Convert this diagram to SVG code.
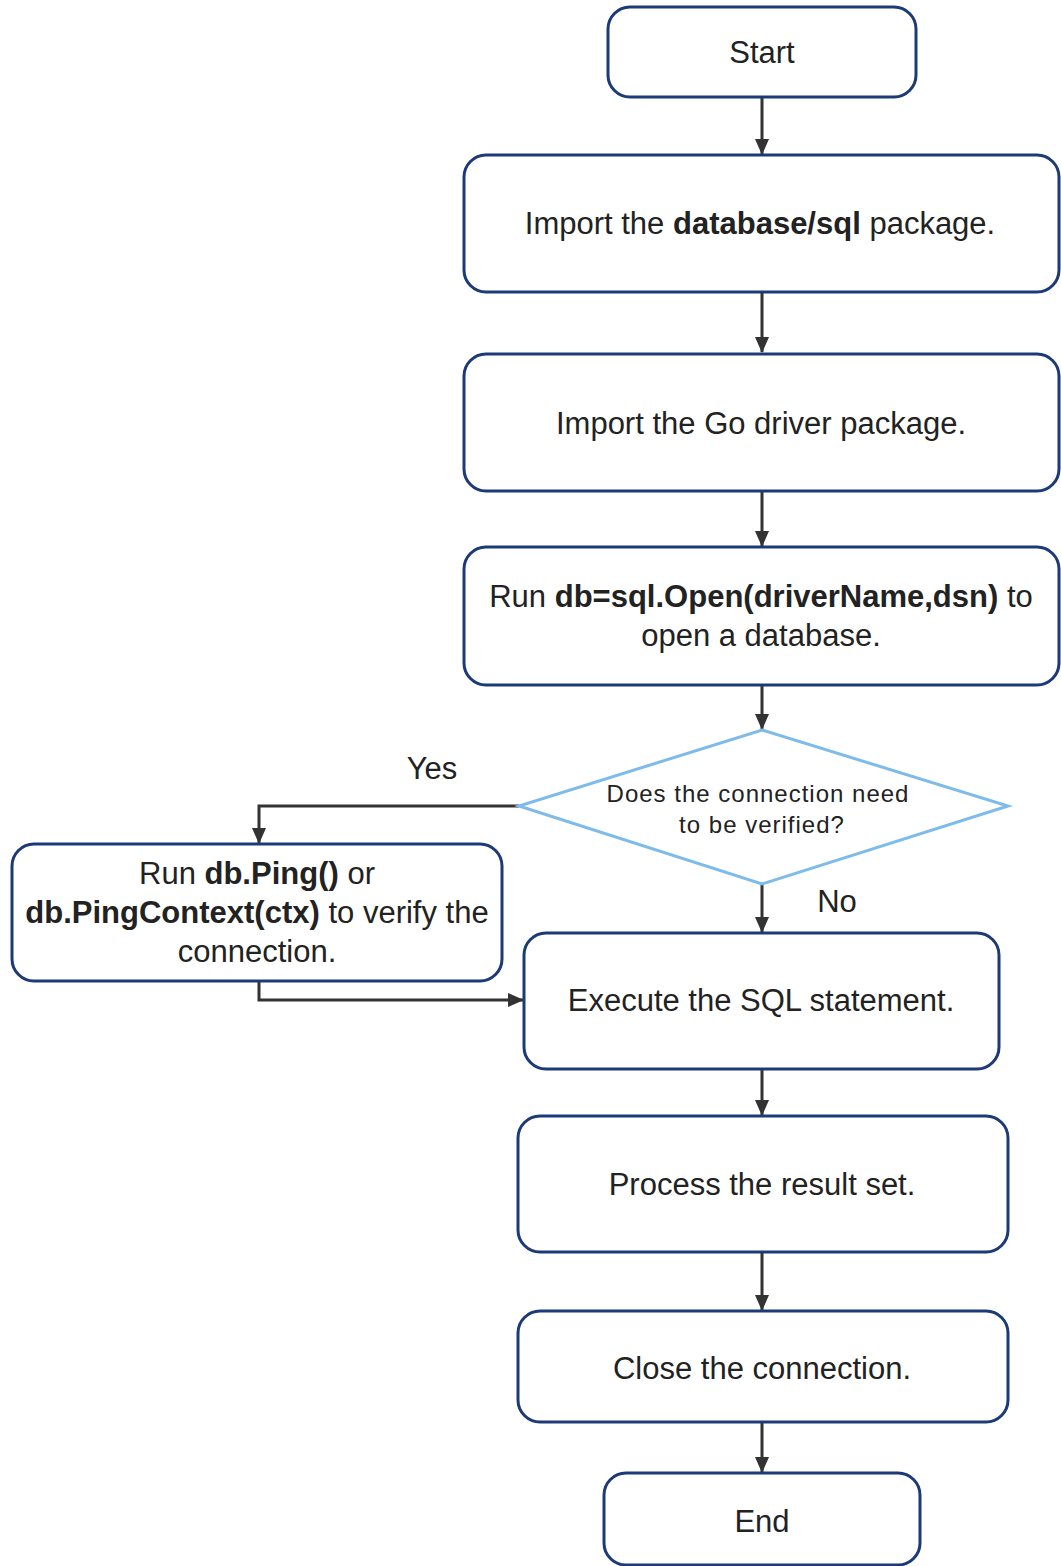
<svg xmlns="http://www.w3.org/2000/svg" width="1061" height="1566" viewBox="0 0 1061 1566">
  <style>
    .box { fill: #ffffff; stroke: #1c3a78; stroke-width: 3; }
    .dec { fill: #ffffff; stroke: #7dbbea; stroke-width: 3; }
    .t { font-family: "Liberation Sans", Arial, sans-serif; font-size: 31px; fill: #222222; text-anchor: middle; }
    .ts { font-family: "Liberation Sans", Arial, sans-serif; font-size: 24px; fill: #222222; text-anchor: middle; letter-spacing: 1px; }
    .b { font-weight: bold; }
    .conn { fill: none; stroke: #333333; stroke-width: 3; marker-end: url(#arrow); }
  </style>
  <defs>
    <marker id="arrow" markerWidth="16" markerHeight="14" refX="15" refY="7" orient="auto" markerUnits="userSpaceOnUse">
      <path d="M0,0 L16,7 L0,14 Z" fill="#333333"/>
    </marker>
  </defs>
  <rect width="1061" height="1566" fill="#ffffff"/>

  <g id="connectors">
    <path class="conn" d="M762,97 V154"/>
    <path class="conn" d="M762,292 V352"/>
    <path class="conn" d="M762,491 V546"/>
    <path class="conn" d="M762,685 V729"/>
    <path class="conn" d="M519,806 H259 V843"/>
    <path class="conn" d="M762,884 V932"/>
    <path class="conn" d="M259,981 V1000 H523"/>
    <path class="conn" d="M762,1069 V1115"/>
    <path class="conn" d="M762,1252 V1310"/>
    <path class="conn" d="M762,1422 V1472"/>
    <text class="t" x="432" y="779">Yes</text>
    <text class="t" x="837" y="912">No</text>
  </g>

  <g id="start">
    <rect class="box" x="608" y="7" width="308" height="90" rx="22"/>
    <text class="t" x="762" y="63">Start</text>
  </g>
  <g id="import-sql">
    <rect class="box" x="464" y="155" width="595" height="137" rx="22"/>
    <text class="t" x="760" y="234">Import the <tspan class="b">database/sql</tspan> package.</text>
  </g>
  <g id="import-driver">
    <rect class="box" x="464" y="354" width="595" height="137" rx="22"/>
    <text class="t" x="761" y="434">Import the Go driver package.</text>
  </g>
  <g id="open-db">
    <rect class="box" x="464" y="547" width="595" height="138" rx="22"/>
    <text class="t" x="761" y="607">Run <tspan class="b">db=sql.Open(driverName,dsn)</tspan> to</text>
    <text class="t" x="761" y="646">open a database.</text>
  </g>
  <g id="verify-decision">
    <polygon class="dec" points="762,730 1008,806 762,884 519,806"/>
    <text class="ts" x="758" y="802">Does the connection need</text>
    <text class="ts" x="762" y="833">to be verified?</text>
  </g>
  <g id="ping">
    <rect class="box" x="12" y="844" width="490" height="137" rx="22"/>
    <text class="t" x="257" y="884">Run <tspan class="b">db.Ping()</tspan> or</text>
    <text class="t" x="257" y="923"><tspan class="b">db.PingContext(ctx)</tspan> to verify the</text>
    <text class="t" x="257" y="962">connection.</text>
  </g>
  <g id="execute">
    <rect class="box" x="524" y="933" width="475" height="136" rx="22"/>
    <text class="t" x="761" y="1011">Execute the SQL statement.</text>
  </g>
  <g id="process">
    <rect class="box" x="518" y="1116" width="490" height="136" rx="22"/>
    <text class="t" x="762" y="1195">Process the result set.</text>
  </g>
  <g id="close">
    <rect class="box" x="518" y="1311" width="490" height="111" rx="22"/>
    <text class="t" x="762" y="1379">Close the connection.</text>
  </g>
  <g id="end">
    <rect class="box" x="604" y="1473" width="316" height="92" rx="22"/>
    <text class="t" x="762" y="1532">End</text>
  </g>
</svg>
